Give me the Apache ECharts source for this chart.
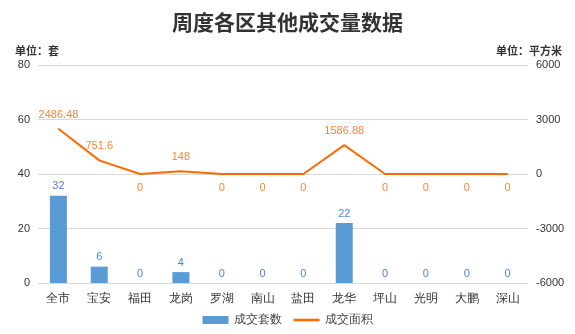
<!DOCTYPE html>
<html><head><meta charset="utf-8">
<script src="https://cdn.jsdelivr.net/npm/echarts@6/dist/echarts.min.js"></script>
<style>html,body{margin:0;padding:0;background:#fff}#c{width:575px;height:334px}</style>
</head><body><div id="c"></div>
<script>
const categories = ['全市','宝安','福田','龙岗','罗湖','南山','盐田','龙华','坪山','光明','大鹏','深山'];
const unitsSold = [32,6,0,4,0,0,0,22,0,0,0,0];
const areaSold = [2486.48,751.6,0,148,0,0,0,1586.88,0,0,0,0];
const leftTicks = {min:0,max:80,interval:20};
const rightTicks = {min:-6000,max:6000,interval:3000};

const chart = echarts.init(document.getElementById('c'));
chart.setOption({
  animation:false,
  backgroundColor:'#fff',
  title:[
    {text:'周度各区其他成交量数据',left:'center',top:7,textStyle:{fontFamily:'Noto Sans CJK SC',fontSize:21,fontWeight:'bold',color:'#333'}},
    {text:'单位：套',left:10,top:40,textStyle:{fontFamily:'Noto Sans CJK SC',fontSize:11,fontWeight:'bold',color:'#333'}},
    {text:'单位：平方米',right:8,top:40,textStyle:{fontFamily:'Noto Sans CJK SC',fontSize:11,fontWeight:'bold',color:'#333'}}
  ],
  legend:{bottom:3,left:'center',itemWidth:26,itemHeight:8,itemGap:12,textStyle:{fontSize:12,color:'#444'},
    data:[{name:'成交套数',icon:'rect'},{name:'成交面积',icon:'path://M0,0 H30 V3 H0 Z',itemStyle:{color:'#ff6a00'}}]},
  grid:{left:38,right:47,top:65,bottom:51,containLabel:false},
  xAxis:{type:'category',data:categories,axisTick:{show:false},axisLine:{show:false},
    axisLabel:{color:'#333',fontSize:12,margin:10}},
  yAxis:[
    {type:'value',min:leftTicks.min,max:leftTicks.max,interval:leftTicks.interval,
     axisLabel:{color:'#333',fontSize:11},splitLine:{lineStyle:{color:'#d9d9d9'}},axisLine:{show:false},axisTick:{show:false}},
    {type:'value',min:rightTicks.min,max:rightTicks.max,interval:rightTicks.interval,
     axisLabel:{color:'#333',fontSize:11,formatter:v=>String(v)},splitLine:{show:false},axisLine:{show:false},axisTick:{show:false}}
  ],
  series:[
    {name:'成交套数',type:'bar',yAxisIndex:0,data:unitsSold,barWidth:17,
     itemStyle:{color:'#5b9bd5'},
     label:{show:true,position:'top',color:'#4e7fe6',fontSize:11,distance:4}},
    {name:'成交面积',type:'line',yAxisIndex:1,symbol:'circle',symbolSize:1,showSymbol:true,
     data:areaSold.map(v=>({value:v,label:{show:true,position:v>0?'top':'bottom'}})),
     lineStyle:{color:'#ff6a00',width:2},itemStyle:{color:'#ff6a00'},
     label:{show:true,color:'#ff8533',fontSize:11,distance:8}}
  ]
});
</script></body></html>
